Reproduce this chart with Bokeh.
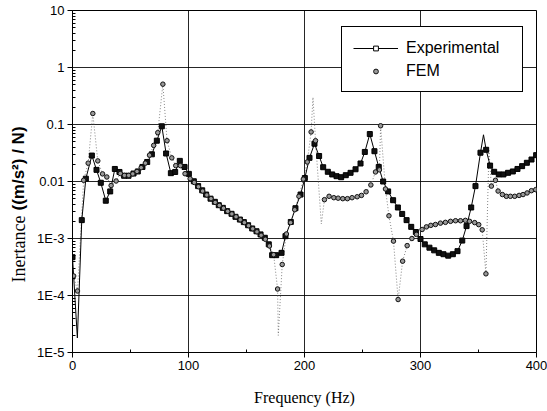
import math
from bokeh.plotting import figure
from bokeh.layouts import row
from bokeh.core.properties import value
from bokeh.models import (FixedTicker, CustomJSTickFormatter, Legend, LegendItem, Range1d)
from bokeh.embed import file_html
from bokeh.resources import INLINE

# ---------------- data ----------------
exp_f = [0, 8.0, 11.5, 16.7, 20.7, 24.4, 28.7, 32.5, 36.5, 40.5, 44.5, 48.3, 52.6, 56.3,
         60.3, 64.4, 68.4, 72.7, 77.0, 80.7, 84.8, 88.5, 92.5, 96.6, 100.3, 104.6, 108.3,
         111.8, 115.2, 119.0, 122.7, 126.1, 129.6, 133.3, 137.1, 140.5, 144.3, 147.7, 151.4,
         154.9, 158.6, 162.1, 165.8, 169.2, 172.1, 175.6, 180.2, 183.6, 188.2, 192.2, 196.6,
         200.3, 204.3, 208.6, 212.6, 216.1, 220.1, 223.9, 227.6, 231.6, 235.6, 239.7, 244.0,
         248.3, 252.0, 256.3, 260.3, 264.0, 267.8, 272.1, 276.4, 280.5, 284.2, 288.0, 292.0,
         296.0, 300.0, 303.7, 307.7, 311.8, 315.8, 319.8, 323.9, 327.9, 331.9, 336.0, 339.7,
         343.7, 347.4, 351.7, 356.6, 360.0, 363.5, 367.5, 371.5, 375.5, 379.6, 383.6, 387.6,
         391.7, 395.7, 399.7]
exp_v = [4.7e-4, 2.1e-3, 0.0112, 0.0285, 0.016, 0.0095, 0.0046, 0.0067, 0.0166, 0.0147,
         0.0126, 0.0126, 0.0138, 0.015, 0.018, 0.022, 0.030, 0.052, 0.093, 0.031, 0.014,
         0.0147, 0.023, 0.018, 0.0136, 0.0101, 0.0083, 0.0070, 0.0059, 0.0050, 0.0044,
         0.00384, 0.00345, 0.00302, 0.00271, 0.0024, 0.00215, 0.00194, 0.00171, 0.0015,
         0.00134, 0.00118, 0.00103, 0.00079, 0.00051, 0.00051, 0.00056, 0.0011, 0.00195,
         0.0034, 0.0059, 0.0115, 0.026, 0.046, 0.028, 0.0178, 0.0148, 0.0133, 0.0124, 0.0119,
         0.0129, 0.0142, 0.0164, 0.0207, 0.033, 0.068, 0.034, 0.018, 0.0100, 0.0067, 0.0047,
         0.0035, 0.0027, 0.0021, 0.0016, 0.0013, 0.00098, 0.00079, 0.00069, 0.00062, 0.00056,
         0.00053, 0.00050, 0.00053, 0.00060, 0.00092, 0.00165, 0.0035, 0.0083, 0.032, 0.036,
         0.019, 0.0148, 0.0133, 0.0133, 0.0142, 0.015, 0.0166, 0.0186, 0.0213, 0.0243, 0.029]
# extreme points of the measured curve where no marker is visible
exp_extra_f = [4.2, 354.3]
exp_extra_v = [1.8e-5, 0.066]

fem_f = [1.0, 4.3, 9.6, 13.5, 17.5, 21.8, 25.9, 29.6, 33.3, 37.6, 41.2, 44.8, 48.4, 52.0,
         55.6, 59.2, 62.8, 66.4, 70.0, 73.5, 77.9, 81.5, 85.6, 89.0, 93.0, 97.0, 101.4,
         105.0, 108.6, 112.2, 115.8, 119.4, 123.0, 126.6, 130.2, 133.8, 137.4, 141.0, 144.6,
         148.2, 151.8, 155.4, 159.0, 162.6, 166.2, 169.8, 173.4, 176.8, 180.8, 184.4, 188.0,
         191.6, 195.2, 199.0, 202.4, 205.7, 209.5, 217.2, 221.2, 225.3, 229.0, 233.0, 237.0,
         241.0, 245.4, 249.1, 253.1, 257.2, 261.2, 264.6, 265.6, 269.8, 272.8, 276.7, 280.7,
         284.6, 288.5, 292.6, 296.5, 301.4, 305.1, 308.9, 312.9, 317.2, 321.5, 325.9, 330.2,
         334.5, 338.7, 342.3, 346.7, 350.2, 353.2, 356.4, 361.1, 364.6, 366.9, 370.6, 374.0,
         377.5, 381.2, 385.0, 388.4, 391.9, 395.6, 399.3]
fem_v = [2.2e-4, 1.2e-4, 0.0105, 0.021, 0.156, 0.023, 0.0136, 0.012, 0.0085, 0.0102, 0.0138,
         0.0128, 0.0128, 0.0136, 0.0150, 0.0175, 0.021, 0.029, 0.043, 0.072, 0.51, 0.052,
         0.026, 0.019, 0.019, 0.0137, 0.0112, 0.0096, 0.0081, 0.0068, 0.0058, 0.0050, 0.0043,
         0.0038, 0.0034, 0.0030, 0.0027, 0.0024, 0.00213, 0.00190, 0.00168, 0.00148, 0.00131,
         0.00114, 0.00097, 0.00074, 0.00052, 0.00013, 0.00035, 0.0012, 0.0019, 0.0032, 0.0055,
         0.011, 0.022, 0.074, 0.052, 0.0048, 0.0055, 0.0052, 0.0051, 0.0050, 0.0050, 0.0052,
         0.0054, 0.0057, 0.0066, 0.0087, 0.0147, 0.016, 0.095, 0.0074, 0.0025, 0.0009, 8.5e-5,
         4.0e-4, 7.5e-4, 1.0e-3, 1.18e-3, 1.44e-3, 1.6e-3, 1.7e-3, 1.76e-3, 1.86e-3, 1.92e-3,
         2.0e-3, 2.05e-3, 2.05e-3, 2.08e-3, 2.0e-3, 1.9e-3, 1.75e-3, 1.42e-3, 2.4e-4, 0.0083,
         0.0105, 0.0068, 0.0059, 0.0055, 0.0055, 0.0055, 0.0057, 0.0059, 0.0063, 0.0069, 0.0072]
# extreme points of the FEM curve (dotted line only, no marker)
fem_extra_f = [177.4, 207.3, 214.5, 359.0]
fem_extra_v = [2.0e-5, 0.30, 0.0018, 0.035]

x_ticks = [0, 100, 200, 300, 400]
x_minor = [50, 150, 250, 350]
y_decades = [1e-5, 1e-4, 1e-3, 1e-2, 1e-1, 1, 10]

y_title_parts = ["Inertance", "((m/s²) / N)"]
x_title = "Frequency (Hz)"

# ---------------- main figure ----------------
p = figure(width=515, height=411, x_range=Range1d(0, 400), y_range=Range1d(1e-5, 10),
           y_axis_type="log", output_backend="svg", toolbar_location=None,
           min_border_left=40, min_border_right=11, min_border_top=10, min_border_bottom=59)
p.outline_line_color = "black"
p.outline_line_width = 1
p.outline_line_alpha = 1
p.background_fill_color = "white"
p.border_fill_color = "white"

y_minor = [m * d for d in y_decades[:-1] for m in range(2, 10)]
p.xaxis.ticker = FixedTicker(ticks=x_ticks, minor_ticks=x_minor)
p.yaxis.ticker = FixedTicker(ticks=y_decades, minor_ticks=y_minor)
p.yaxis.formatter = CustomJSTickFormatter(code="""
const e = Math.round(Math.log10(tick));
if (e >= 0) return String(Math.round(Math.pow(10, e)));
if (e >= -2) return "0." + "0".repeat(-e - 1) + "1";
return "1E" + e;
""")

for ax in (p.xaxis, p.yaxis):
    ax.axis_line_color = "black"
    ax.axis_line_width = 1
    ax.major_tick_line_color = "black"
    ax.minor_tick_line_color = "black"
    ax.major_tick_out = 5
    ax.major_tick_in = 0
    ax.minor_tick_out = 0
    ax.minor_tick_in = 3
    ax.major_label_text_font = "Liberation Sans"
    ax.major_label_text_font_size = "13px"
    ax.major_label_text_font_style = "normal"
    ax.major_label_text_color = "black"
    ax.major_label_standoff = 3

p.xaxis.axis_label = x_title
p.xaxis.axis_label_text_font = "Liberation Serif"
p.xaxis.axis_label_text_font_size = "16px"
p.xaxis.axis_label_text_font_style = "normal"
p.xaxis.axis_label_text_color = "black"
p.xaxis.axis_label_standoff = 16

for g in (p.xgrid, p.ygrid):
    g.grid_line_color = "black"
    g.grid_line_width = 1
    g.grid_line_alpha = 0.85

# FEM dotted line through all FEM points
fem_line = sorted(zip(fem_f + fem_extra_f, fem_v + fem_extra_v))
p.line([a for a, b in fem_line], [b for a, b in fem_line], line_color="#666666",
       line_width=0.8, line_dash="1 2")

# Experimental line + markers
exp_line = sorted(zip(exp_f + exp_extra_f, exp_v + exp_extra_v))
p.line([a for a, b in exp_line], [b for a, b in exp_line], line_color="black", line_width=1)
p.scatter(exp_f, exp_v, marker="square", size=5, line_color="black", fill_color="#111111",
          line_width=1)

# FEM markers
p.scatter(fem_f, fem_v, marker="circle", size=4.5, line_color="#111111",
          fill_color="#999999", line_width=1)

# legend glyphs (placed outside the visible range so only the legend shows them)
lg_line = p.line(x=[-1000, -900], y=[1, 1], line_color="black", line_width=1)
lg_sq = p.scatter(x=[-1000], y=[1], marker="square", size=5, line_color="black",
                  fill_color="white")
lg_fem = p.scatter(x=[-1000], y=[1], marker="circle", size=4.5, line_color="#111111",
                   fill_color="#999999")
legend = Legend(items=[LegendItem(label="Experimental", renderers=[lg_line, lg_sq]),
                       LegendItem(label="FEM", renderers=[lg_fem])],
                location=(269, 260))
legend.border_line_color = "black"
legend.border_line_width = 1
legend.border_line_alpha = 1
legend.background_fill_color = "white"
legend.background_fill_alpha = 1
legend.label_text_font = "Liberation Sans"
legend.label_text_font_size = "16px"
legend.label_text_color = "black"
legend.padding = 11
legend.spacing = 4
legend.glyph_width = 45
legend.glyph_height = 12
legend.label_height = 19
legend.label_width = 105
legend.label_standoff = 8
legend.margin = 0
p.add_layout(legend)

# ---------------- narrow strip carrying the two-font y-axis title ----------------
# (its frame is aligned with the main frame by the row layout: canvas y 10..352)
lf = figure(width=32, height=411, x_range=Range1d(0, 32), y_range=Range1d(59, 401),
            output_backend="svg", toolbar_location=None, x_axis_location=None,
            y_axis_location=None, min_border=0)
lf.grid.visible = False
lf.outline_line_color = None
lf.background_fill_color = "white"
lf.border_fill_color = "white"
lf.text(x=[18], y=[129], text=[y_title_parts[0]], angle=math.pi / 2,
        text_font=value("Liberation Serif"), text_font_size="18px", text_align="left",
        text_baseline="middle", text_color="black")
lf.text(x=[18], y=[201], text=[y_title_parts[1]], angle=math.pi / 2,
        text_font=value("Liberation Sans"), text_font_style="bold", text_font_size="17px",
        text_align="left", text_baseline="middle", text_color="black")

layout = row(lf, p, spacing=0)
open("out.html", "w").write(file_html(layout, INLINE))
